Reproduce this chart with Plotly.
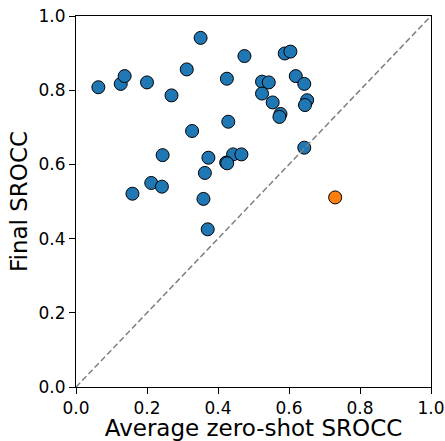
import plotly.graph_objects as go

# Blue series: zero-shot vs final SROCC
zs_x = [0.063, 0.126, 0.137, 0.200, 0.269, 0.312, 0.351, 0.425, 0.4745, 0.429,
        0.327, 0.588, 0.604, 0.524, 0.543, 0.524, 0.619, 0.643, 0.554, 0.651,
        0.645, 0.576, 0.573, 0.643, 0.244, 0.373, 0.4425, 0.466, 0.423, 0.426,
        0.363, 0.212, 0.242, 0.159, 0.359, 0.371]
final_y = [0.808, 0.817, 0.838, 0.821, 0.786, 0.856, 0.941, 0.831, 0.892, 0.715,
           0.690, 0.899, 0.904, 0.823, 0.821, 0.791, 0.838, 0.817, 0.767, 0.773,
           0.760, 0.736, 0.728, 0.645, 0.625, 0.618, 0.627, 0.627, 0.605, 0.603,
           0.577, 0.550, 0.540, 0.521, 0.507, 0.425]

# Orange highlighted point
hl_x = [0.730]
hl_y = [0.511]

diag = [0.0, 1.0]
ticks = [0.0, 0.2, 0.4, 0.6, 0.8, 1.0]
tick_text = ["0.0", "0.2", "0.4", "0.6", "0.8", "1.0"]

fig = go.Figure()
fig.add_trace(go.Scatter(x=zs_x, y=final_y, mode="markers",
                         marker=dict(size=13, color="#1f77b4",
                                     line=dict(color="black", width=1)),
                         cliponaxis=False, showlegend=False))
fig.add_trace(go.Scatter(x=hl_x, y=hl_y, mode="markers",
                         marker=dict(size=13, color="#ff7f0e",
                                     line=dict(color="black", width=1)),
                         cliponaxis=False, showlegend=False))
fig.add_trace(go.Scatter(x=diag, y=diag, mode="lines",
                         line=dict(color="gray", dash="6px,3px", width=1.5),
                         showlegend=False))

axis_common = dict(range=[0, 1], tickvals=ticks, ticktext=tick_text,
                   showgrid=False, zeroline=False, showline=True,
                   linecolor="black", linewidth=1, mirror=True,
                   ticks="outside", ticklen=6, tickwidth=1, tickcolor="black",
                   automargin=False,
                   tickfont=dict(family="DejaVu Sans", size=17, color="black"))

fig.update_layout(
    width=445, height=441,
    margin=dict(l=76, r=14, t=16, b=54),
    paper_bgcolor="white", plot_bgcolor="white",
    xaxis=dict(**axis_common,
               title=dict(text="Average zero-shot SROCC", standoff=2,
                          font=dict(family="DejaVu Sans", size=23, color="black"))),
    yaxis=dict(**axis_common,
               title=dict(text="Final SROCC", standoff=4,
                          font=dict(family="DejaVu Sans", size=23, color="black"))),
)

fig.write_html("out.html", config={"displayModeBar": False},
               post_script="document.body.style.margin='0px';document.body.style.overflow='hidden';")
